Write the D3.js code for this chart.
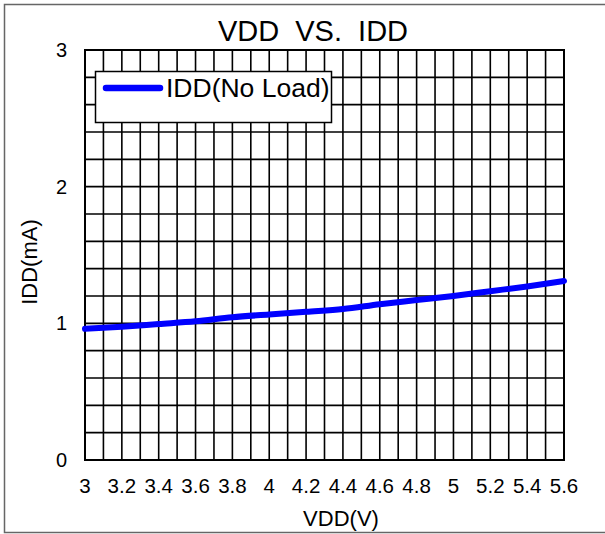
<!DOCTYPE html>
<html>
<head>
<meta charset="utf-8">
<script src="https://cdn.jsdelivr.net/npm/d3@7"></script>
<style>
body { margin: 0; background: #fff; }
text { font-family: "Liberation Sans", Arial, sans-serif; fill: #000; }
</style>
</head>
<body>
<div class="chart"></div>
<script>
// data
const vdd = [3, 3.2, 3.4, 3.6, 3.8, 4, 4.2, 4.4, 4.6, 4.8, 5, 5.2, 5.4, 5.6];
const idd = [0.96, 0.975, 0.995, 1.015, 1.045, 1.065, 1.085, 1.105, 1.14, 1.17, 1.2, 1.235, 1.27, 1.31];
const xTicks = ['3', '3.2', '3.4', '3.6', '3.8', '4', '4.2', '4.4', '4.6', '4.8', '5', '5.2', '5.4', '5.6'];
const yTicks = [0, 1, 2, 3];
const seriesName = 'IDD(No Load)';

const width = 605, height = 534;
const svg = d3.select('.chart').append('svg')
	.attr('width', width)
	.attr('height', height);

// outer frame
svg.append('rect')
	.attr('x', 4.5).attr('y', 4.5)
	.attr('width', 604).attr('height', 528)
	.style('fill', 'none')
	.style('stroke', '#666')
	.style('stroke-width', 1.5);

const x = d3.scaleLinear().domain([3, 5.6]).range([85, 564]);
const y = d3.scaleLinear().domain([0, 3]).range([460, 50]);

// grid: verticals every 0.1, horizontals every 0.2
const vGrid = d3.range(0, 27).map(i => 3 + i * 0.1);
const hGrid = d3.range(0, 16).map(i => i * 0.2);

svg.selectAll('.vg').data(vGrid).enter().append('line')
	.attr('x1', d => x(d)).attr('x2', d => x(d))
	.attr('y1', y(0)).attr('y2', y(3))
	.style('stroke', '#000')
	.style('stroke-width', 1.6);

svg.selectAll('.hg').data(hGrid).enter().append('line')
	.attr('x1', x(3)).attr('x2', x(5.6))
	.attr('y1', d => y(d)).attr('y2', d => y(d))
	.style('stroke', '#000')
	.style('stroke-width', 1.6);

// plot border
svg.append('rect')
	.attr('x', x(3)).attr('y', y(3))
	.attr('width', x(5.6) - x(3)).attr('height', y(0) - y(3))
	.style('fill', 'none')
	.style('stroke', '#000')
	.style('stroke-width', 2);

// axes labels
svg.selectAll('.xt').data(vdd).enter().append('text')
	.attr('x', d => x(d))
	.attr('y', 493)
	.attr('text-anchor', 'middle')
	.attr('font-size', '20.5px')
	.text((d, i) => xTicks[i]);

svg.selectAll('.yt').data(yTicks).enter().append('text')
	.attr('x', 67)
	.attr('y', d => y(d) + 7)
	.attr('text-anchor', 'end')
	.attr('font-size', '20px')
	.text(d => d);

// line
const line = d3.line()
	.x((d, i) => x(vdd[i]))
	.y(d => y(d))
	.curve(d3.curveMonotoneX);

svg.append('path')
	.datum(idd)
	.attr('d', line)
	.style('fill', 'none')
	.style('stroke', '#0000ff')
	.style('stroke-width', 6)
	.style('stroke-linecap', 'round');

// title & axis titles
svg.append('text')
	.attr('x', 313).attr('y', 41)
	.attr('text-anchor', 'middle')
	.attr('font-size', '29px')
	.style('white-space', 'pre')
	.text('VDD  VS.  IDD');

svg.append('text')
	.attr('x', 341).attr('y', 526)
	.attr('text-anchor', 'middle')
	.attr('font-size', '22px')
	.text('VDD(V)');

svg.append('text')
	.attr('transform', 'translate(37,262) rotate(-90)')
	.attr('text-anchor', 'middle')
	.attr('font-size', '22px')
	.text('IDD(mA)');

// legend
const lg = svg.append('g');
lg.append('rect')
	.attr('x', 95.5).attr('y', 71.5)
	.attr('width', 236).attr('height', 51)
	.style('fill', '#fff')
	.style('stroke', '#000')
	.style('stroke-width', 1.5);
lg.append('line')
	.attr('x1', 106).attr('x2', 160)
	.attr('y1', 88).attr('y2', 88)
	.style('stroke', '#0000ff')
	.style('stroke-width', 6.5)
	.style('stroke-linecap', 'round');
lg.append('text')
	.attr('x', 166).attr('y', 97)
	.attr('font-size', '26.5px')
	.text(seriesName);
</script>
</body>
</html>
